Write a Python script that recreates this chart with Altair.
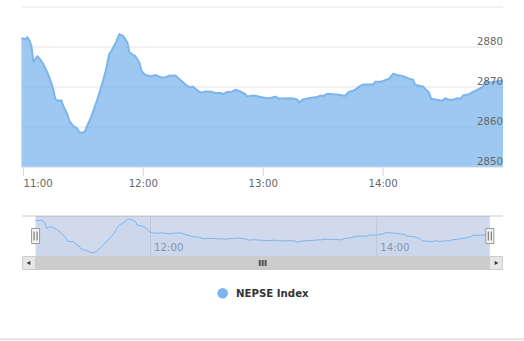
import altair as alt
import pandas as pd

# ---------------- data ----------------
times = ["10:59", "11:01", "11:02", "11:03", "11:04", "11:05", "11:06", "11:07", "11:09", "11:10",
         "11:12", "11:13", "11:15", "11:16", "11:18", "11:19", "11:20", "11:22", "11:23", "11:25",
         "11:27", "11:28", "11:30", "11:31", "11:32", "11:34", "11:37", "11:39", "11:41", "11:43",
         "11:44", "11:46", "11:47", "11:48", "11:50", "11:52", "11:53", "11:55", "11:56", "11:58",
         "11:59", "12:01", "12:04", "12:06", "12:09", "12:11", "12:13", "12:16", "12:18", "12:21",
         "12:23", "12:25", "12:26", "12:28", "12:29", "12:31", "12:34", "12:36", "12:39", "12:40",
         "12:42", "12:44", "12:46", "12:49", "12:51", "12:52", "12:55", "12:57", "13:00", "13:02",
         "13:04", "13:06", "13:08", "13:10", "13:12", "13:15", "13:17", "13:18", "13:20", "13:22",
         "13:25", "13:27", "13:29", "13:30", "13:32", "13:35", "13:37", "13:40", "13:41", "13:43",
         "13:45", "13:46", "13:48", "13:50", "13:52", "13:55", "13:56", "13:59", "14:01", "14:03",
         "14:05", "14:07", "14:09", "14:11", "14:13", "14:15", "14:16", "14:18", "14:20", "14:21",
         "14:23", "14:24", "14:26", "14:29", "14:30", "14:31", "14:33", "14:35", "14:37", "14:39",
         "14:40", "14:43", "14:45", "14:48", "14:50", "14:51", "14:54", "14:56", "15:00"]

values = [2882.2, 2882.0, 2882.4, 2881.6, 2880.3, 2876.3, 2877.0, 2877.7, 2876.5, 2875.7,
          2873.6, 2872.4, 2869.4, 2866.9, 2866.5, 2866.7, 2865.2, 2863.2, 2861.5, 2860.2,
          2859.6, 2858.6, 2858.6, 2859.1, 2860.4, 2862.6, 2866.9, 2870.1, 2873.6, 2878.3,
          2879.0, 2880.8, 2882.0, 2883.2, 2882.7, 2881.2, 2878.7, 2878.0, 2877.7, 2876.2,
          2874.1, 2873.0, 2872.7, 2873.0, 2872.4, 2872.4, 2872.8, 2872.9, 2872.0, 2870.7,
          2869.9, 2870.1, 2869.6, 2868.8, 2868.6, 2868.9, 2868.8, 2868.5, 2868.5, 2868.2,
          2868.8, 2868.7, 2869.3, 2868.8, 2868.2, 2867.6, 2867.9, 2867.7, 2867.4, 2867.2,
          2867.3, 2867.6, 2867.1, 2867.1, 2867.2, 2867.1, 2866.9, 2866.1, 2866.9, 2867.1,
          2867.4, 2867.5, 2867.9, 2867.7, 2868.3, 2868.2, 2868.1, 2867.9, 2867.8, 2868.8,
          2869.1, 2869.3, 2870.1, 2870.6, 2870.6, 2870.6, 2871.3, 2871.3, 2871.7, 2872.1,
          2873.3, 2873.0, 2872.8, 2872.5, 2872.1, 2871.8, 2870.6, 2870.3, 2870.1, 2869.6,
          2868.6, 2867.1, 2866.9, 2866.6, 2866.7, 2867.2, 2866.8, 2866.8, 2867.2, 2867.1,
          2867.9, 2868.2, 2868.8, 2869.5, 2870.1, 2871.3, 2871.1, 2871.3, 2871.6]

series_name = "NEPSE Index"
y_tick_labels = [2850, 2860, 2870, 2880]
y_grid_values = [2860, 2870, 2880, 2890]
x_tick_labels = ["11:00", "12:00", "13:00", "14:00"]
nav_tick_labels = ["12:00", "14:00"]

assert len(times) == len(values)


def to_min(s):
    h, m = s.split(":")
    return int(h) * 60 + int(m)


df = pd.DataFrame({"t": [to_min(s) for s in times], "v": values})
t_first = int(df["t"].min())
t_last = int(df["t"].max())

BLUE = "#7cb5ec"
FONT = "DejaVu Sans"
FS = 10.2

# scales (pixel ranges inside a 524x341 canvas)
xs = alt.Scale(domain=[659.3, 900], range=[22, 503], zero=False, nice=False)
ys = alt.Scale(domain=[2850, 2890], range=[167, 7], zero=False, nice=False)
nxs = alt.Scale(domain=[651.8, 907.0], range=[22, 503], zero=False, nice=False)
nys = alt.Scale(domain=[2855.9, 2885.4], range=[256, 216], zero=False, nice=False)

one = pd.DataFrame({"a": [0]})

# ---------------- main chart ----------------
grid = alt.Chart(pd.DataFrame({"v": y_grid_values})).mark_rule(
    color="#e6e6e6", strokeWidth=1
).encode(y=alt.Y("v:Q", scale=ys, axis=None), x=alt.value(22), x2=alt.value(503))

area = alt.Chart(df).mark_area(color=BLUE, fillOpacity=0.75, strokeWidth=0).encode(
    x=alt.X("t:Q", scale=xs, axis=None),
    y=alt.Y("v:Q", scale=ys, axis=None),
    y2=alt.datum(2850),
)
line = alt.Chart(df).mark_line(color=BLUE, strokeWidth=2, strokeJoin="round").encode(
    x=alt.X("t:Q", scale=xs, axis=None),
    y=alt.Y("v:Q", scale=ys, axis=None),
)

x_axis_line = alt.Chart(pd.DataFrame({"v": [2850]})).mark_rule(color="#ccd6eb").encode(
    y=alt.Y("v:Q", scale=ys, axis=None), x=alt.value(22), x2=alt.value(503)
)

xt_df = pd.DataFrame({"label": x_tick_labels, "t": [to_min(s) for s in x_tick_labels]})
x_ticks = alt.Chart(xt_df).mark_rule(color="#ccd6eb").encode(
    x=alt.X("t:Q", scale=xs, axis=None), y=alt.value(167), y2=alt.value(176)
)
x_lab_first = alt.Chart(xt_df.iloc[:1]).mark_text(
    align="left", baseline="alphabetic", fontSize=FS, color="#666666"
).encode(x=alt.X("t:Q", scale=xs, axis=None), y=alt.value(186.5), text="label:N")
x_lab_rest = alt.Chart(xt_df.iloc[1:]).mark_text(
    align="center", baseline="alphabetic", fontSize=FS, color="#666666"
).encode(x=alt.X("t:Q", scale=xs, axis=None), y=alt.value(186.5), text="label:N")

y_labels = alt.Chart(pd.DataFrame({"v": y_tick_labels})).mark_text(
    align="right", baseline="alphabetic", dy=-2, fontSize=FS, color="#666666"
).encode(
    y=alt.Y("v:Q", scale=ys, axis=None),
    x=alt.value(503),
    text=alt.Text("v:Q", format="d"),
)

main = alt.layer(grid, area, line, x_axis_line, x_ticks, x_lab_first, x_lab_rest, y_labels)

# ---------------- navigator ----------------
nav_top = alt.Chart(one).mark_rule(color="#cccccc").encode(
    x=alt.value(22), x2=alt.value(503), y=alt.value(216)
)
nt_df = pd.DataFrame({"label": nav_tick_labels, "t": [to_min(s) for s in nav_tick_labels]})
nav_grid = alt.Chart(nt_df).mark_rule(color="#e6e6e6").encode(
    x=alt.X("t:Q", scale=nxs, axis=None), y=alt.value(216), y2=alt.value(256)
)
nav_lab = alt.Chart(nt_df).mark_text(
    align="left", baseline="alphabetic", dx=3.5, fontSize=FS, color="#999999"
).encode(x=alt.X("t:Q", scale=nxs, axis=None), y=alt.value(251), text="label:N")

rng = pd.DataFrame({"t0": [t_first], "t1": [t_last], "tm": [(t_first + t_last) / 2]})
mask = alt.Chart(rng).mark_rect(color="#6685c2", opacity=0.3).encode(
    x=alt.X("t0:Q", scale=nxs, axis=None), x2="t1:Q", y=alt.value(216), y2=alt.value(256)
)
nav_area = alt.Chart(df).mark_area(color=BLUE, fillOpacity=0.05).encode(
    x=alt.X("t:Q", scale=nxs, axis=None),
    y=alt.Y("v:Q", scale=nys, axis=None),
    y2=alt.datum(2855.9),
)
nav_line = alt.Chart(df).mark_line(color=BLUE, strokeWidth=1).encode(
    x=alt.X("t:Q", scale=nxs, axis=None),
    y=alt.Y("v:Q", scale=nys, axis=None),
)

# scrollbar
track = alt.Chart(one).mark_rect(color="#f2f2f2").encode(
    x=alt.value(22), x2=alt.value(503), y=alt.value(256), y2=alt.value(270)
)
bar = alt.Chart(rng).mark_rect(color="#cccccc").encode(
    x=alt.X("t0:Q", scale=nxs, axis=None), x2="t1:Q", y=alt.value(256), y2=alt.value(270)
)
btn_l = alt.Chart(one).mark_rect(fill="#e6e6e6", stroke="#cccccc", strokeWidth=1).encode(
    x=alt.value(22.5), x2=alt.value(35.5), y=alt.value(256.5), y2=alt.value(269.5)
)
btn_r = alt.Chart(one).mark_rect(fill="#e6e6e6", stroke="#cccccc", strokeWidth=1).encode(
    x=alt.value(489.5), x2=alt.value(502.5), y=alt.value(256.5), y2=alt.value(269.5)
)
arr_l = alt.Chart(one).mark_point(shape="triangle-left", filled=True, size=18, color="#333333", opacity=1).encode(
    x=alt.value(28.5), y=alt.value(263)
)
arr_r = alt.Chart(one).mark_point(shape="triangle-right", filled=True, size=18, color="#333333", opacity=1).encode(
    x=alt.value(496.5), y=alt.value(263)
)
rifles = [
    alt.Chart(rng).mark_rule(color="#555555", strokeWidth=2, xOffset=off).encode(
        x=alt.X("tm:Q", scale=nxs, axis=None), y=alt.value(260), y2=alt.value(266)
    )
    for off in (-2.9, 0, 2.9)
]

# handles
hd = pd.DataFrame({"t": [t_first, t_last]})
handles = alt.Chart(hd).mark_rect(
    fill="#f2f2f2", stroke="#999999", strokeWidth=1, xOffset=-4, x2Offset=4
).encode(x=alt.X("t:Q", scale=nxs, axis=None), x2="t:Q", y=alt.value(228.5), y2=alt.value(243.5))
handle_lines = [
    alt.Chart(hd).mark_rule(color="#666666", strokeWidth=1, xOffset=off).encode(
        x=alt.X("t:Q", scale=nxs, axis=None), y=alt.value(231.5), y2=alt.value(240.5)
    )
    for off in (-1.5, 1.5)
]

nav = alt.layer(nav_top, nav_grid, nav_lab, mask, nav_area, nav_line,
                track, bar, btn_l, btn_r, arr_l, arr_r, *rifles, handles, *handle_lines)

# ---------------- legend & frame ----------------
leg_pt = alt.Chart(one).mark_point(shape="circle", filled=True, size=113, color=BLUE, opacity=1).encode(
    x=alt.value(222.7), y=alt.value(293.3)
)
leg_txt = alt.Chart(one).mark_text(
    text=series_name, align="left", baseline="middle", fontWeight="bold", fontSize=FS, color="#333333"
).encode(x=alt.value(236), y=alt.value(293.8))
bottom_line = alt.Chart(one).mark_rule(color="#dcdcdc", strokeWidth=1.5).encode(
    x=alt.value(0), x2=alt.value(524), y=alt.value(339.3)
)
deco = alt.layer(leg_pt, leg_txt, bottom_line)

chart = (
    alt.layer(main, nav, deco)
    .resolve_scale(x="independent", y="independent")
    .properties(width=524, height=341, padding=0,
                autosize=alt.AutoSizeParams(type="none"), background="white")
    .configure(font=FONT)
    .configure_view(stroke=None)
)

chart.save("out.html", embed_options={"renderer": "svg", "actions": False})
